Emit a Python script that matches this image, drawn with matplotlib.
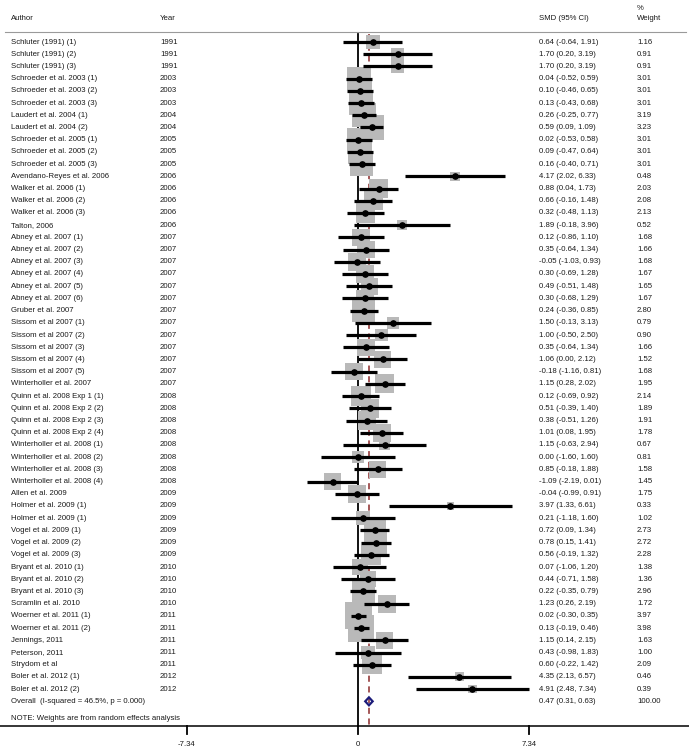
import matplotlib.pyplot as plt
import matplotlib.transforms as mtransforms
from matplotlib.patches import Rectangle, Polygon

plt.rcParams["font.family"] = ["Liberation Sans", "DejaVu Sans"]

authors = [
    "Schluter (1991) (1)", "Schluter (1991) (2)", "Schluter (1991) (3)",
    "Schroeder et al. 2003 (1)", "Schroeder et al. 2003 (2)", "Schroeder et al. 2003 (3)",
    "Laudert et al. 2004 (1)", "Laudert et al. 2004 (2)",
    "Schroeder et al. 2005 (1)", "Schroeder et al. 2005 (2)", "Schroeder et al. 2005 (3)",
    "Avendano-Reyes et al. 2006",
    "Walker et al. 2006 (1)", "Walker et al. 2006 (2)", "Walker et al. 2006 (3)",
    "Talton, 2006",
    "Abney et al. 2007 (1)", "Abney et al. 2007 (2)", "Abney et al. 2007 (3)",
    "Abney et al. 2007 (4)", "Abney et al. 2007 (5)", "Abney et al. 2007 (6)",
    "Gruber et al. 2007",
    "Sissom et al 2007 (1)", "Sissom et al 2007 (2)", "Sissom et al 2007 (3)",
    "Sissom et al 2007 (4)", "Sissom et al 2007 (5)",
    "Winterholler et al. 2007",
    "Quinn et al. 2008 Exp 1 (1)", "Quinn et al. 2008 Exp 2 (2)",
    "Quinn et al. 2008 Exp 2 (3)", "Quinn et al. 2008 Exp 2 (4)",
    "Winterholler et al. 2008 (1)", "Winterholler et al. 2008 (2)",
    "Winterholler et al. 2008 (3)", "Winterholler et al. 2008 (4)",
    "Allen et al. 2009", "Holmer et al. 2009 (1)", "Holmer et al. 2009 (1)",
    "Vogel et al. 2009 (1)", "Vogel et al. 2009 (2)", "Vogel et al. 2009 (3)",
    "Bryant et al. 2010 (1)", "Bryant et al. 2010 (2)", "Bryant et al. 2010 (3)",
    "Scramlin et al. 2010", "Woerner et al. 2011 (1)", "Woerner et al. 2011 (2)",
    "Jennings, 2011", "Peterson, 2011", "Strydom et al",
    "Boler et al. 2012 (1)", "Boler et al. 2012 (2)",
]
years = [1991] * 3 + [2003] * 3 + [2004] * 2 + [2005] * 3 + [2006] * 5 + \
    [2007] * 13 + [2008] * 8 + [2009] * 6 + [2010] * 4 + [2011] * 5 + [2012] * 2
smd = [0.64, 1.70, 1.70, 0.04, 0.10, 0.13, 0.26, 0.59, 0.02, 0.09, 0.16, 4.17,
       0.88, 0.66, 0.32, 1.89, 0.12, 0.35, -0.05, 0.30, 0.49, 0.30, 0.24,
       1.50, 1.00, 0.35, 1.06, -0.18, 1.15, 0.12, 0.51, 0.38, 1.01, 1.15, 0.00,
       0.85, -1.09, -0.04, 3.97, 0.21, 0.72, 0.78, 0.56, 0.07, 0.44, 0.22, 1.23,
       0.02, 0.13, 1.15, 0.43, 0.60, 4.35, 4.91]
lo = [-0.64, 0.20, 0.20, -0.52, -0.46, -0.43, -0.25, 0.09, -0.53, -0.47, -0.40,
      2.02, 0.04, -0.16, -0.48, -0.18, -0.86, -0.64, -1.03, -0.69, -0.51, -0.68,
      -0.36, -0.13, -0.50, -0.64, 0.00, -1.16, 0.28, -0.69, -0.39, -0.51, 0.08,
      -0.63, -1.60, -0.18, -2.19, -0.99, 1.33, -1.18, 0.09, 0.15, -0.19, -1.06,
      -0.71, -0.35, 0.26, -0.30, -0.19, 0.14, -0.98, -0.22, 2.13, 2.48]
hi = [1.91, 3.19, 3.19, 0.59, 0.65, 0.68, 0.77, 1.09, 0.58, 0.64, 0.71, 6.33,
      1.73, 1.48, 1.13, 3.96, 1.10, 1.34, 0.93, 1.28, 1.48, 1.29, 0.85, 3.13,
      2.50, 1.34, 2.12, 0.81, 2.02, 0.92, 1.40, 1.26, 1.95, 2.94, 1.60, 1.88,
      0.01, 0.91, 6.61, 1.60, 1.34, 1.41, 1.32, 1.20, 1.58, 0.79, 2.19, 0.35,
      0.46, 2.15, 1.83, 1.42, 6.57, 7.34]
weights = [1.16, 0.91, 0.91, 3.01, 3.01, 3.01, 3.19, 3.23, 3.01, 3.01, 3.01, 0.48,
           2.03, 2.08, 2.13, 0.52, 1.68, 1.66, 1.68, 1.67, 1.65, 1.67, 2.80, 0.79,
           0.90, 1.66, 1.52, 1.68, 1.95, 2.14, 1.89, 1.91, 1.78, 0.67, 0.81, 1.58,
           1.45, 1.75, 0.33, 1.02, 2.73, 2.72, 2.28, 1.38, 1.36, 2.96, 1.72, 3.97,
           3.98, 1.63, 1.00, 2.09, 0.46, 0.39]
overall = (0.47, 0.31, 0.63)
overall_label = "Overall  (I-squared = 46.5%, p = 0.000)"
xticks = [-7.34, 0, 7.34]

W, H = 689, 751
PX = 171 / 7.34            # pixels per SMD unit
X0 = 358                   # pixel of SMD = 0
ROW0, DY = 42, 12.21       # first row pixel y, row spacing
BOX = 13.5                 # box side per sqrt(weight), px

fig = plt.figure(figsize=(W / 100, H / 100), dpi=100)
ax = fig.add_axes([0, 0, 1, 1])
ax.set_xlim(-X0 / PX, (W - X0) / PX)
ax.set_ylim(H, 0)
ax.axis("off")
tx = mtransforms.blended_transform_factory(ax.transAxes, ax.transData)

fs = 5.6
tc = "#1a1a1a"
ys = [ROW0 + i * DY for i in range(len(smd))]
y_over = ys[-1] + DY


def label(x, y, s, **kw):
    ax.text(x / W, y, s, transform=tx, fontsize=fs, va="center", color=tc, **kw)


# headers
for x, s in [(11, "Author"), (160, "Year"), (539, "SMD (95% CI)"), (637, "Weight")]:
    label(x, 19, s)
label(637, 8, "%")
ax.plot([5 / W, 686 / W], [32, 32], transform=tx, color="#9a9a9a", lw=0.8)

# reference lines
ax.plot([0, 0], [34, 726], color="black", lw=1.3, zorder=1)
ax.plot([overall[0]] * 2, [34, 726], color="#8b2a2a", lw=1.1,
        dashes=(4, 3), zorder=1)

for y, a, yr, m, l, h, w in zip(ys, authors, years, smd, lo, hi, weights):
    s = BOX * w ** 0.5
    ax.add_patch(Rectangle((m - s / 2 / PX, y - s / 2), s / PX, s,
                           facecolor="#b9b9b9", edgecolor="none", zorder=2))
    ax.plot([l, h], [y, y], color="black", lw=2.3, solid_capstyle="butt", zorder=3)
    ax.plot(m, y, "o", color="black", ms=3.8, zorder=4)
    label(11, y, a)
    label(160, y, str(yr))
    label(539, y, f"{m:.2f} ({l:.2f}, {h:.2f})")
    label(637, y, f"{w:.2f}")

# overall diamond
m, l, h = overall
ax.add_patch(Polygon([(l, y_over), (m, y_over - 4), (h, y_over), (m, y_over + 4)],
                     closed=True, facecolor="none", edgecolor="#1c1c7a", lw=1.6,
                     zorder=5))
label(11, y_over, overall_label)
label(539, y_over, f"{m:.2f} ({l:.2f}, {h:.2f})")
label(637, y_over, "100.00")
label(11, 719, "NOTE: Weights are from random effects analysis")

# x axis
ax.plot([0, 1], [726, 726], transform=tx, color="black", lw=1.1)
for t in xticks:
    ax.plot([t, t], [726, 734], color="black", lw=1.3)
    ax.text(t, 744, f"{t:g}", fontsize=fs, ha="center", va="center", color=tc)

fig.savefig("out.png", dpi=100)
